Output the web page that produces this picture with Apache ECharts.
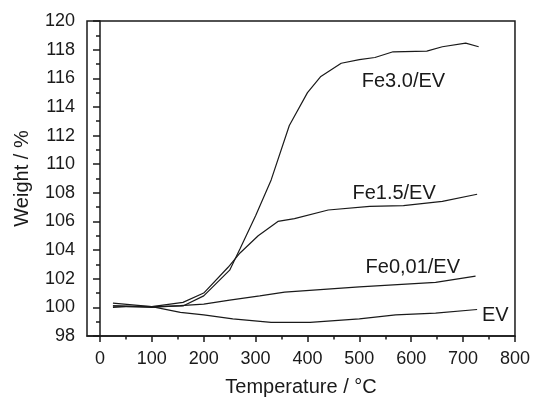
<!DOCTYPE html>
<html>
<head>
<meta charset="utf-8">
<script src="https://cdn.jsdelivr.net/npm/echarts@6/dist/echarts.min.js"></script>
<style>html,body{margin:0;padding:0;background:#fff}#c{width:533px;height:402px}</style>
</head>
<body>
<div id="c"></div>
<script>
// Temperature (°C) and weight (%) readings for each curve
const fe30T = [25, 50, 100, 160, 200, 250, 270, 300, 330, 365, 400, 425, 465, 500, 530, 565, 630, 660, 705, 730];
const fe30W = [100.0, 100.05, 100.05, 100.1, 100.8, 102.6, 104.1, 106.4, 108.9, 112.7, 115.0, 116.1, 117.05, 117.3, 117.45, 117.85, 117.9, 118.2, 118.45, 118.2];
const fe15T = [25, 100, 160, 200, 247, 270, 305, 343, 375, 440, 520, 585, 660, 727];
const fe15W = [100.1, 100.05, 100.35, 101.0, 102.8, 103.8, 105.0, 106.0, 106.2, 106.8, 107.05, 107.1, 107.4, 107.9];
const fe001T = [25, 100, 155, 200, 250, 308, 356, 500, 647, 724];
const fe001W = [100.1, 100.0, 100.12, 100.23, 100.5, 100.8, 101.07, 101.43, 101.75, 102.18];
const evT = [25, 100, 155, 200, 256, 330, 405, 500, 570, 647, 727];
const evW = [100.3, 100.05, 99.65, 99.47, 99.19, 98.95, 98.95, 99.19, 99.47, 99.6, 99.85];

const seriesNames = ['Fe3.0/EV', 'Fe1.5/EV', 'Fe0,01/EV', 'EV'];
// label anchor points in data units [temperature, weight]
const labelAt = [[585, 115.8], [567, 107.96], [603, 102.77], [762, 99.45]];

const xMajor = [0, 100, 200, 300, 400, 500, 600, 700, 800];
const xMinor = [50, 150, 250, 350, 450, 550, 650, 750];

const pairs = (t, w) => t.map((v, i) => [v, w[i]]);
const curves = [pairs(fe30T, fe30W), pairs(fe15T, fe15W), pairs(fe001T, fe001W), pairs(evT, evW)];

const FONT = 'Liberation Sans, Arial, sans-serif';
const INK = '#1a1a1a';

const chart = echarts.init(document.getElementById('c'), null, {renderer: 'canvas'});
chart.setOption({
  animation: false,
  backgroundColor: '#fff',
  grid: {left: 87, right: 15, top: 21, bottom: 63, show: true, borderColor: INK, borderWidth: 1.5, backgroundColor: 'transparent'},
  xAxis: [{
    type: 'value', min: -25, max: 800,
    name: 'Temperature / °C', nameLocation: 'middle', nameGap: 41,
    nameTextStyle: {fontFamily: FONT, fontSize: 20, color: INK},
    axisLine: {show: true, onZero: false, lineStyle: {color: INK, width: 1.5}},
    axisTick: {show: true, customValues: xMajor, length: 6, lineStyle: {color: INK, width: 1.5}},
    axisLabel: {customValues: xMajor, margin: 14, fontFamily: FONT, fontSize: 18, color: INK},
    splitLine: {show: false}
  }, {
    type: 'value', min: -25, max: 800, position: 'bottom',
    axisLine: {show: false},
    axisTick: {show: true, customValues: xMinor, length: 3.5, lineStyle: {color: INK, width: 1.5}},
    axisLabel: {show: false},
    splitLine: {show: false}
  }],
  yAxis: {
    type: 'value', min: 98, max: 120, interval: 2,
    name: 'Weight / %', nameLocation: 'middle', nameGap: 55,
    nameTextStyle: {fontFamily: FONT, fontSize: 20, color: INK},
    axisLine: {show: true, lineStyle: {color: INK, width: 1.5}},
    axisTick: {show: true, length: 7, lineStyle: {color: INK, width: 1.5}},
    minorTick: {show: true, splitNumber: 2, length: 4, lineStyle: {color: INK, width: 1.5}},
    axisLabel: {margin: 12, fontFamily: FONT, fontSize: 18, color: INK},
    splitLine: {show: false}
  },
  series: curves.map((d, i) => ({
    type: 'line', name: seriesNames[i], data: d, xAxisIndex: 0,
    showSymbol: false, symbol: 'none',
    lineStyle: {color: INK, width: 1.2},
    markPoint: {
      symbol: 'circle', symbolSize: 0,
      label: {show: true, position: 'inside', formatter: seriesNames[i], fontFamily: FONT, fontSize: 20, color: INK},
      data: [{coord: labelAt[i]}]
    }
  }))
});
</script>
</body>
</html>
